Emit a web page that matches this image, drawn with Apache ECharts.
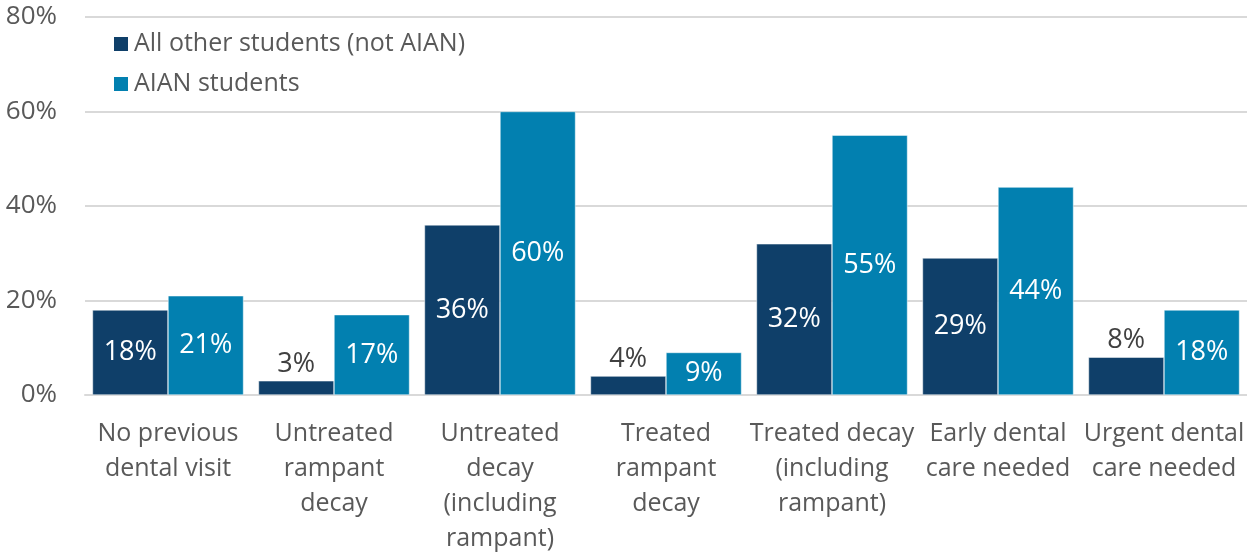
<!DOCTYPE html>
<html>
<head>
<meta charset="utf-8">
<script src="https://cdn.jsdelivr.net/npm/echarts@6/dist/echarts.min.js"></script>
<style>
  html, body { margin: 0; padding: 0; background: #fff; }
  #chart { width: 1247px; height: 552px; }
</style>
</head>
<body>
<div id="chart"></div>
<script>
var categories = [
  'No previous\ndental visit',
  'Untreated\nrampant\ndecay',
  'Untreated\ndecay\n(including\nrampant)',
  'Treated\nrampant\ndecay',
  'Treated decay\n(including\nrampant)',
  'Early dental\ncare needed',
  'Urgent dental\ncare needed'
];
var otherStudents = [18, 3, 36, 4, 32, 29, 8];
var aianStudents = [21, 17, 60, 9, 55, 44, 18];
var yTicks = [0, 20, 40, 60, 80];

var font = 'Open Sans';

// small bars get their label above the bar in gray, like the original
function withLabels(values) {
  return values.map(function (v) {
    if (v < 10) {
      return { value: v, label: { position: 'top', color: '#404040' } };
    }
    return v;
  });
}

var chart = echarts.init(document.getElementById('chart'));
chart.setOption({
  animation: false,
  textStyle: { fontFamily: font },
  grid: { left: 85, right: 0, top: 17, bottom: 157, outerBoundsMode: 'none', containLabel: false },
  legend: {
    orient: 'vertical',
    left: 112,
    top: 27,
    padding: 0,
    itemWidth: 16,
    itemHeight: 16,
    itemGap: 6,
    icon: 'rect',
    textStyle: { fontSize: 25, lineHeight: 34, color: '#595959', fontFamily: font },
    data: ['All other students (not AIAN)', 'AIAN students']
  },
  xAxis: {
    type: 'category',
    data: categories,
    axisLine: { lineStyle: { color: '#d9d9d9', width: 2 } },
    axisTick: { show: false },
    axisLabel: {
      interval: 0,
      margin: 21,
      fontSize: 25,
      lineHeight: 35,
      color: '#595959',
      fontFamily: font
    }
  },
  yAxis: {
    type: 'value',
    min: yTicks[0],
    max: yTicks[yTicks.length - 1],
    interval: 20,
    axisLine: { show: false },
    axisTick: { show: false },
    splitLine: { lineStyle: { color: '#d9d9d9', width: 2 } },
    axisLabel: {
      margin: 28,
      fontSize: 26,
      color: '#595959',
      fontFamily: font,
      formatter: '{value}%'
    }
  },
  series: [
    {
      name: 'All other students (not AIAN)',
      type: 'bar',
      barGap: '0%',
      barCategoryGap: '9%',
      itemStyle: { color: '#0f3f69', borderColor: '#ffffff', borderWidth: 0.5 },
      label: {
        show: true,
        position: 'inside',
        color: '#ffffff',
        fontSize: 27,
        fontFamily: font,
        distance: 3,
        formatter: '{c}%'
      },
      data: withLabels(otherStudents)
    },
    {
      name: 'AIAN students',
      type: 'bar',
      barGap: '0%',
      barCategoryGap: '9%',
      itemStyle: { color: '#0280b0', borderColor: '#ffffff', borderWidth: 0.5 },
      label: {
        show: true,
        position: 'inside',
        color: '#ffffff',
        fontSize: 27,
        fontFamily: font,
        formatter: '{c}%'
      },
      data: aianStudents
    }
  ]
});
</script>
</body>
</html>
